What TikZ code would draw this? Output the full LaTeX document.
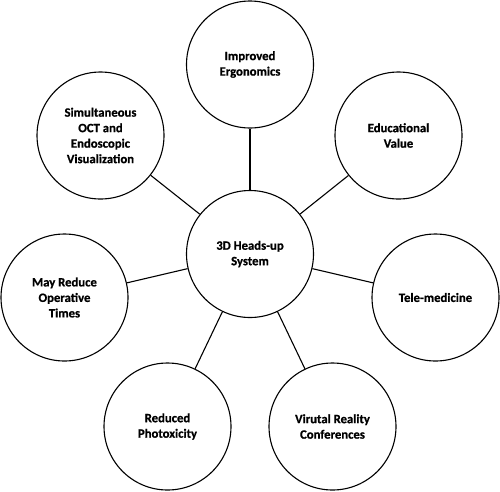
\documentclass[tikz,border=0pt]{standalone}
\usepackage{fontspec}
\newfontfamily\bubfont{Carlito Bold}[FakeBold=0.8]
\begin{document}
\begin{tikzpicture}[x=1pt,y=-1pt,
  bub/.style={circle,draw=black,line width=1.1pt,minimum size=127pt,inner sep=0pt,align=center,
    font=\bubfont\fontsize{12.7}{15.5}\selectfont},
  link/.style={draw=black,line width=1.1pt}]
\useasboundingbox (0,0) rectangle (500,491);
\node[bub] (c) at (250,254) {3D Heads-up\\System};
\node[bub] (erg) at (250,64.5) {Improved\\Ergonomics};
\node[bub] (edu) at (398.5,135.5) {Educational\\Value};
\node[bub] (tele) at (435.5,297.5) {Tele-medicine};
\node[bub] (vr) at (332.5,426.5) {Virutal Reality\\Conferences};
\node[bub] (photo) at (167.5,426.5) {Reduced\\Photoxicity};
\node[bub] (may) at (64.5,297.5) {May Reduce\\Operative\\Times};
\node[bub] (sim) at (100.5,135.5) {Simultaneous\\OCT and\\Endoscopic\\Visualization};
\foreach \n in {erg,edu,tele,vr,photo,may,sim} \draw[link] (c) -- (\n);
\end{tikzpicture}
\end{document}
